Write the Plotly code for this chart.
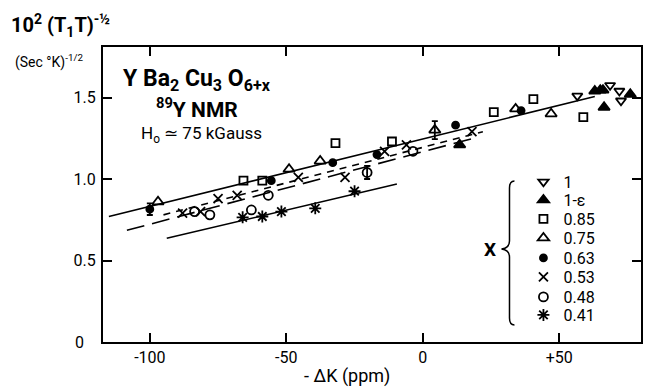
import plotly.graph_objects as go

# ---------------- data ----------------
x_1 = [56.6, 68.6, 72.0, 72.6]
y_1 = [1.51, 1.575, 1.54, 1.48]

x_1e = [13.5, 63.0, 65.0, 66.0, 66.4, 76.0]
y_1e = [1.21, 1.54, 1.545, 1.545, 1.44, 1.52]

x_085 = [-65.7, -58.8, -32.0, -11.3, 26.0, 40.5, 58.8]
y_085 = [0.99, 0.99, 1.22, 1.23, 1.41, 1.49, 1.38]

x_075 = [-97.0, -49.0, -37.6, 4.4, 34.0, 47.0]
y_075 = [0.86, 1.06, 1.11, 1.30, 1.43, 1.40]
e_075 = [0, 0, 0, 0.055, 0, 0]

x_063 = [-100.0, -55.5, -33.0, -16.8, 12.0, 36.0]
y_063 = [0.815, 0.99, 1.10, 1.15, 1.33, 1.42]
e_063 = [0.036, 0, 0, 0, 0, 0]

x_053 = [-88.0, -81.4, -75.0, -68.0, -45.6, -28.5, -14.0, -6.0, 18.0]
y_053 = [0.79, 0.80, 0.88, 0.90, 1.01, 1.01, 1.17, 1.21, 1.29]

x_048 = [-83.6, -78.0, -62.8, -56.6, -20.4, -3.6]
y_048 = [0.80, 0.78, 0.81, 0.90, 1.04, 1.17]
e_048 = [0, 0, 0, 0, 0.04, 0]

x_041 = [-66.0, -58.8, -51.8, -39.4, -25.0]
y_041 = [0.765, 0.77, 0.80, 0.82, 0.925]

# drawn guide lines (end points)
fitA_x = [-115.0, 63.0]
fitA_y = [0.77, 1.506]
fitB_x = [-95.0, 22.0]
fitB_y = [0.78, 1.29]
fitC_x = [-108.4, 19.3]
fitC_y = [0.685, 1.253]
fitD_x = [-93.8, -9.5]
fitD_y = [0.636, 0.969]

series_names = ["1", "1-ε", "0.85", "0.75", "0.63", "0.53", "0.48", "0.41"]
x_ticks = [-100, -50, 0, 50]
x_ticktext = ["-100", "-50", "0", "+50"]
y_ticks = [0, 0.5, 1.0, 1.5]
y_ticktext = ["0\u00a0\u00a0\u00a0", "0.5", "1.0", "1.5"]

# ---------------- layout geometry ----------------
W, H = 645, 389
L, R, T, B = 103, 643, 47, 342


def px(x):
    return (x - L) / (R - L)


def py(y):
    return (B - y) / (B - T)


FONT = "Roboto"
fig = go.Figure()

# guide lines
for fx, fy, dash in [(fitA_x, fitA_y, "solid"), (fitB_x, fitB_y, "7px,6px"),
                     (fitC_x, fitC_y, "18px,8px"), (fitD_x, fitD_y, "solid")]:
    fig.add_trace(go.Scatter(x=fx, y=fy, mode="lines", showlegend=False,
                             line=dict(color="black", width=1.6, dash=dash),
                             hoverinfo="skip"))

series = [
    (x_1, y_1, None, "triangle-down-open", 9),
    (x_1e, y_1e, None, "triangle-up", 10),
    (x_085, y_085, None, "square-open", 8),
    (x_075, y_075, e_075, "triangle-up-open", 10),
    (x_063, y_063, e_063, "circle", 7),
    (x_053, y_053, None, "x-thin-open", 9),
    (x_048, y_048, e_048, "circle-open", 9),
    (x_041, y_041, None, "asterisk-open", 10),
]

# legend row positions (pixels from top) for each entry
legend_rows = [182, 200, 219, 238, 258, 277, 297, 315]
LEG_X = 525

legend_layouts = {}
for i, ((xs, ys, es, sym, sz), name) in enumerate(zip(series, series_names)):
    lname = "legend" if i == 0 else f"legend{i + 1}"
    fig.add_trace(go.Scatter(
        x=xs, y=ys, mode="markers", name=name, legend=lname,
        marker=dict(symbol=sym, size=sz, color="black",
                    line=dict(color="black", width=1.8)),
    ))
    legend_layouts[lname] = dict(
        x=px(LEG_X), y=py(legend_rows[i]), xanchor="left", yanchor="middle",
        bgcolor="rgba(0,0,0,0)", borderwidth=0,
        font=dict(family=FONT, size=16, color="black"), itemwidth=30)
    if es is not None:
        ex = [a for a, e in zip(xs, es) if e > 0]
        ey = [b for b, e in zip(ys, es) if e > 0]
        ee = [e for e in es if e > 0]
        fig.add_trace(go.Scatter(
            x=ex, y=ey, mode="markers", showlegend=False,
            marker=dict(size=1, color="black"),
            error_y=dict(type="data", array=ee, visible=True, color="black",
                         thickness=1.8, width=3),
            hoverinfo="skip"))

axis_common = dict(showline=True, linecolor="black", linewidth=2, mirror="ticks",
                   ticks="inside", ticklen=9, tickwidth=2, tickcolor="black",
                   showgrid=False, zeroline=False,
                   tickfont=dict(family=FONT, size=16, color="black"))

fig.update_xaxes(range=[(L - 424) / 2.74, (R - 424) / 2.74], tickvals=x_ticks,
                 ticktext=x_ticktext, **axis_common)
fig.update_yaxes(range=[0, (B - T) / 163.0], tickvals=y_ticks,
                 ticktext=y_ticktext, ticklabelstandoff=2, **axis_common)

ann = []
ann.append(dict(x=px(9), y=py(25), xref="paper", yref="paper", xanchor="left",
                yanchor="middle", showarrow=False,
                text="10<sup>2</sup> (T<sub>1</sub>T)<sup>-½</sup>",
                font=dict(family=FONT, size=20, color="black", weight="bold")))
ann.append(dict(x=px(13), y=py(62), xref="paper", yref="paper", xanchor="left",
                yanchor="middle", showarrow=False,
                text="(Sec °K)<sup>-1/2</sup>",
                font=dict(family=FONT, size=14, color="black")))
ann.append(dict(x=px(121), y=py(80), xref="paper", yref="paper", xanchor="left",
                yanchor="middle", showarrow=False,
                text="Y Ba<sub>2</sub> Cu<sub>3</sub> O<sub>6+x</sub>",
                font=dict(family=FONT, size=23, color="black", weight="bold")))
ann.append(dict(x=px(154), y=py(108), xref="paper", yref="paper", xanchor="left",
                yanchor="middle", showarrow=False,
                text="<sup>89</sup>Y NMR",
                font=dict(family=FONT, size=21, color="black", weight="bold")))
ann.append(dict(x=px(139), y=py(134), xref="paper", yref="paper", xanchor="left",
                yanchor="middle", showarrow=False,
                text="H<sub>o</sub> ≃ 75 kGauss",
                font=dict(family=FONT, size=17, color="black")))
ann.append(dict(x=px(348), y=py(376), xref="paper", yref="paper", xanchor="center",
                yanchor="middle", showarrow=False,
                text="- ΔK (ppm)",
                font=dict(family=FONT, size=18, color="black")))
ann.append(dict(x=px(491), y=py(249), xref="paper", yref="paper", xanchor="center",
                yanchor="middle", showarrow=False,
                text="X",
                font=dict(family=FONT, size=19, color="black", weight="bold")))

# brace
bx = 511


def P(x, y):
    return f"{px(x):.5f},{py(y):.5f}"


brace = (f"M {P(bx + 5, 181)} Q {P(bx, 181)} {P(bx, 188)} L {P(bx, 241)} "
         f"Q {P(bx, 248)} {P(bx - 8, 249)} Q {P(bx, 250)} {P(bx, 257)} "
         f"L {P(bx, 318)} Q {P(bx, 325)} {P(bx + 5, 325)}")

fig.update_layout(
    width=W, height=H,
    margin=dict(l=L, r=W - R, t=T, b=H - B),
    paper_bgcolor="white", plot_bgcolor="white",
    annotations=ann,
    shapes=[dict(type="path", path=brace, xref="paper", yref="paper",
                 line=dict(color="black", width=1.5))],
    font=dict(family=FONT, color="black"),
    showlegend=True,
    **legend_layouts,
)

fig.write_html("out.html",
               config={"displayModeBar": False},
               post_script="document.body.style.margin='0px';"
                           "document.body.style.overflow='hidden';")
